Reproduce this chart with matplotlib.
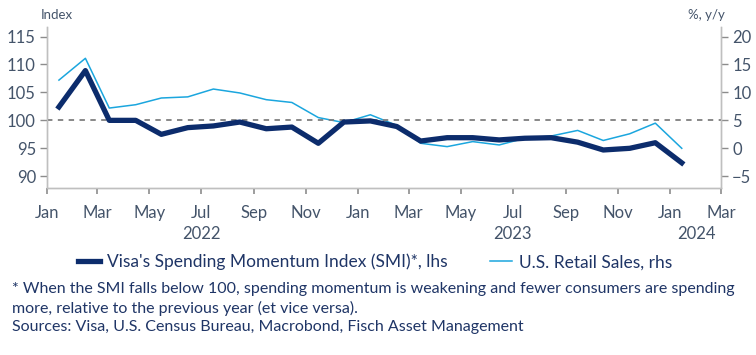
import matplotlib
matplotlib.use("Agg")
import matplotlib.pyplot as plt
import matplotlib.dates as mdates
import pandas as pd

plt.rcParams['font.family'] = ['Lato', 'DejaVu Sans']

# monthly values, Jan 2022 - Jan 2024
months = pd.date_range("2022-01-01", "2024-01-01", freq="MS") + pd.Timedelta(days=14)
smi = [102.4, 108.9, 100.0, 100.0, 97.5, 98.7, 99.0, 99.7, 98.5, 98.8, 95.9, 99.7,
       99.9, 98.9, 96.3, 96.9, 96.9, 96.5, 96.8, 96.9, 96.1, 94.7, 95.0, 96.0, 92.4]
retail = [12.2, 16.1, 7.2, 7.8, 9.0, 9.2, 10.6, 9.9, 8.7, 8.2, 5.5, 4.6,
          6.0, 4.1, 0.9, 0.3, 1.2, 0.6, 1.8, 2.2, 3.2, 1.4, 2.6, 4.5, 0.0]

left_ticks = [90, 95, 100, 105, 110, 115]
right_ticks = [-5, 0, 5, 10, 15, 20]
years = ["2022", "2023", "2024"]
year_pos = ["2022-07-01", "2023-07-01", "2024-02-01"]

navy = "#0c2c6c"
light = "#1ba6de"
txt = "#44546a"
dark_txt = "#1f3566"
grid_gray = "#bfbfbf"

fig = plt.figure(figsize=(7.56, 3.55), dpi=100)
ax = fig.add_axes([47 / 756, 1 - 188 / 355, (721 - 47) / 756, (188 - 27) / 355])
ax2 = ax.twinx()

lo, hi = 87.9, 116.7
ax.set_ylim(lo, hi)
ax2.set_ylim(lo - 95, hi - 95)
ax.set_xlim(pd.Timestamp("2022-01-01"), pd.Timestamp("2024-03-01"))

ax.axhline(100, color="#7f7f7f", lw=1.3, ls=(0, (3, 3)), zorder=1)
l2, = ax2.plot(months, retail, color=light, lw=1.1, zorder=2)
l1, = ax.plot(months, smi, color=navy, lw=3.8, zorder=3)
ax.set_zorder(ax2.get_zorder() + 1)
ax.patch.set_visible(False)

for a in (ax, ax2):
    for s in a.spines.values():
        s.set_color(grid_gray)
        s.set_linewidth(1)
    a.spines['top'].set_visible(False)

ax.set_yticks(left_ticks)
ax2.set_yticks(right_ticks)
for a in (ax, ax2):
    a.tick_params(axis='y', colors="#8c8c8c", labelcolor=txt, labelsize=12,
                  length=5, width=1, pad=3)

ax.xaxis.set_major_locator(mdates.MonthLocator(bymonth=[1, 3, 5, 7, 9, 11]))
ax.xaxis.set_major_formatter(mdates.DateFormatter("%b"))
ax.xaxis.set_minor_locator(mdates.MonthLocator(bymonth=[1]))
ax.tick_params(axis='x', which='major', labelsize=12, labelcolor=txt, color="#8c8c8c",
               length=4, width=1.2, pad=8)
ax.tick_params(axis='x', which='minor', color="#6f6f6f", length=8, width=1.6)

for y, p in zip(years, year_pos):
    ax.text(mdates.date2num(pd.Timestamp(p)), -0.285, y, transform=ax.get_xaxis_transform(),
            ha='center', va='center', fontsize=12, color=txt)

fig.text(57 / 756, 1 - 15 / 355, "Index", ha='center', va='center', fontsize=9.5, color=txt)
fig.text(706 / 756, 1 - 15 / 355, "%, y/y", ha='center', va='center', fontsize=9.5, color=txt)

fig.legend([l1, l2], ["Visa's Spending Momentum Index (SMI)*, lhs", "U.S. Retail Sales, rhs"],
           loc='center', bbox_to_anchor=(375 / 756, 1 - 262 / 355), ncol=2, frameon=False,
           fontsize=12.5, labelcolor=dark_txt, handlelength=1.3, handletextpad=0.4, columnspacing=2.4)

fig.text(12 / 756, 1 - 289 / 355,
         "* When the SMI falls below 100, spending momentum is weakening and fewer consumers are spending",
         ha='left', va='center', fontsize=11.5, color=dark_txt)
fig.text(12 / 756, 1 - 308 / 355, "more, relative to the previous year (et vice versa).",
         ha='left', va='center', fontsize=11.5, color=dark_txt)
fig.text(12 / 756, 1 - 327 / 355, "Sources: Visa, U.S. Census Bureau, Macrobond, Fisch Asset Management",
         ha='left', va='center', fontsize=11.5, color=dark_txt)

fig.savefig("out.png", dpi=100)
